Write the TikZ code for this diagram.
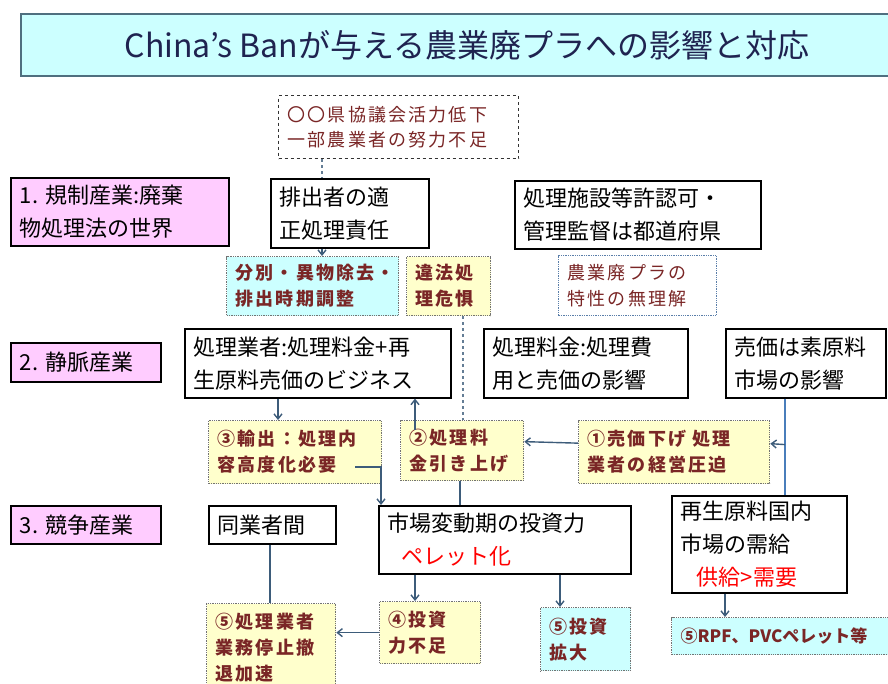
\documentclass[tikz,border=0pt]{standalone}
\usepackage{fontspec}
\setmainfont{Noto Sans CJK JP}
\newfontfamily\spc[LetterSpace=12]{Noto Sans CJK JP}
\usetikzlibrary{arrows.meta}
\definecolor{brn}{HTML}{7A2626}
\definecolor{pinkc}{HTML}{FFCCFF}
\definecolor{cync}{HTML}{CCFFFF}
\definecolor{ylwc}{HTML}{FFFFCC}
\definecolor{conn}{HTML}{3D5C7A}
\definecolor{thickb}{HTML}{4A7EBB}
\definecolor{titleb}{HTML}{4F6F7F}
\definecolor{titlet}{HTML}{1F2350}
\newcommand\BX[7]{%
  \pgfmathsetmacro\bxw{#5-#3-18}%
  \pgfmathsetmacro\bxh{#6-#4}%
  \node[#1, text width=\bxw pt, minimum height=\bxh pt] (#2) at (#3,#4) {#7};}
\tikzset{
  base/.style={anchor=north west, inner xsep=9pt, inner ysep=0pt, align=left,
    font=\fontsize{22}{33}\selectfont},
  blk/.style={base, draw=black, line width=1.6pt, fill=white},
  pnk/.style={blk, fill=pinkc},
  ylw/.style={base, draw=black!55, densely dotted, line width=1.3pt, fill=ylwc,
    text=brn, font=\spc\bfseries\fontsize{18}{26}\selectfont},
  cyn/.style={ylw, fill=cync},
  cynnarrow/.style={cyn, font=\bfseries\fontsize{17}{26}\selectfont},
  dsh/.style={base, draw=black!80, dashed, line width=1.3pt, fill=white,
    text=brn, font=\spc\fontsize{18}{25}\selectfont},
  wdot/.style={base, draw=thickb!70!gray, densely dotted, line width=1.3pt, fill=white,
    text=brn, font=\spc\fontsize{18}{26}\selectfont},
  ttl/.style={anchor=north west, draw=titleb, line width=2pt, fill=cync, text=titlet,
    font=\fontsize{32}{38}\selectfont, inner sep=0pt},
  cn/.style={draw=conn, line width=1.4pt},
  cna/.style={cn, -{Straight Barb[length=5pt,width=8pt]}},
  cnd/.style={draw=conn!80, line width=1.3pt, dashed},
  cnt/.style={draw=thickb, line width=2.6pt},
}
\begin{document}
\begin{tikzpicture}[x=1pt,y=-1pt]
\useasboundingbox (0,0) rectangle (888,684);
% title
\node[ttl, minimum width=870pt, minimum height=62pt] (title) at (20,13)
  {\hspace*{22pt}China’s Banが与える農業廃プラへの影響と対応};
% row 1
\BX{dsh}{d0}{278}{95}{518}{158}{〇〇県協議会活力低下\\一部農業者の努力不足}
\BX{pnk}{p1}{10}{177}{228}{245}{1.~規制産業:廃棄\\物処理法の世界}
\BX{blk}{b1}{270}{178}{428}{247}{排出者の適\\正処理責任}
\BX{blk}{b2}{514}{180}{760}{248}{処理施設等許認可・\\管理監督は都道府県}
\BX{cyn}{c1}{226}{256}{398}{315}{分別・異物除去・\\排出時期調整}
\BX{ylw}{y1}{406}{256}{490}{315}{違法処\\理危惧}
\BX{wdot}{w1}{558}{255}{716}{315}{農業廃プラの\\特性の無理解}
% row 2
\BX{pnk}{p2}{10}{342}{160}{381}{2.~静脈産業}
\BX{blk}{b3}{184}{328}{450}{397}{処理業者:処理料金+再\\生原料売価のビジネス}
\BX{blk}{b4}{483}{328}{687}{397}{処理料金:処理費\\用と売価の影響}
\BX{blk}{b5}{725}{328}{885}{397}{売価は素原料\\市場の影響}
\BX{ylw}{y3}{208}{420}{381}{483}{③輸出：処理内\\容高度化必要}
\BX{ylw}{y2}{400}{420}{523}{480}{②処理料\\金引き上げ}
\BX{ylw}{y0}{578}{420}{769}{483}{①売価下げ~処理\\業者の経営圧迫}
% row 3
\BX{pnk}{p3}{10}{505}{160}{543}{3.~競争産業}
\BX{blk}{b6}{208}{505}{335}{543}{同業者間}
\BX{blk}{b7}{378}{505}{630}{573}{市場変動期の投資力\\\hspace*{14pt}\textcolor{red}{ペレット化}}
\BX{blk}{b8}{671}{495}{846}{592}{再生原料国内\\市場の需給\\\hspace*{16pt}\textcolor{red}{供給>需要}}
\BX{ylw}{y5}{206}{603}{335}{690}{⑤処理業者\\業務停止撤\\退加速}
\BX{ylw}{y4}{379}{601}{480}{663}{④投資\\力不足}
\BX{cyn}{c5}{540}{607}{630}{670}{⑤投資\\拡大}
\BX{cynnarrow}{c6}{671}{617}{892}{654}{⑤RPF、PVCペレット等}
% connectors
\draw[cnd] ([xshift=44pt]d0.south west) -- ([xshift=52pt]b1.north west);
\draw[cna] ([xshift=52pt]b1.south west) -- ([xshift=96pt]c1.north west);
\draw[cnd] ([xshift=57pt]y1.south west) -- ([xshift=63pt]y2.north west);
\draw[cna] ([xshift=15pt,yshift=-10pt]y2.north west) -- ([xshift=231pt]b3.south west);
\draw[cna] ([xshift=94pt]b3.south west) -- ([xshift=70pt]y3.north west);
\draw[cna] ([xshift=147pt,yshift=-47pt]y3.north west) -| ([xshift=3pt]b7.north west);
\draw[cna] ([yshift=9pt]y0.west) -- ([yshift=9pt]y2.east);
\draw[cnt] ([xshift=60pt]b5.south west) -- ([xshift=114pt]b8.north west);
\draw[cna] ([xshift=60pt,yshift=-46pt]b5.south west) -- ([yshift=8.5pt]y0.east);
\draw[cn] ([xshift=60pt]y2.south west) -- ([xshift=82pt]b7.north west);
\draw[cn] ([xshift=62pt]b6.south west) -- ([xshift=64pt]y5.north west);
\draw[cna] ([xshift=37pt]b7.south west) -- ([xshift=36pt]y4.north west);
\draw[cna] ([xshift=182pt]b7.south west) -- ([xshift=20pt]c5.north west);
\draw[cna] (y4.west) -- (y4.west -| y5.east);
\draw[cna] ([xshift=54pt]b8.south west) -- ([xshift=54pt]c6.north west);
\end{tikzpicture}
\end{document}
